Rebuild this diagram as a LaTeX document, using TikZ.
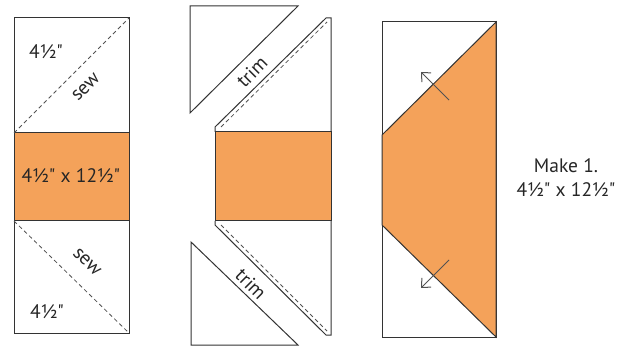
\documentclass[tikz,border=0pt]{standalone}
\usepackage{fontspec}
\setmainfont{PT Sans}
\usetikzlibrary{arrows.meta}
\definecolor{patch}{HTML}{F4A25A}
\definecolor{edge}{HTML}{333333}
\definecolor{ink}{HTML}{262626}
\newcommand{\inch}{\textquotedbl}
\tikzset{
  piece/.style={draw=edge, line width=1pt, line join=miter},
  orangepiece/.style={piece, fill=patch},
  seam/.style={draw=edge!85, line width=0.8pt, dash pattern=on 4pt off 3pt},
  lbl/.style={text=ink, font=\fontsize{19.5}{22}\selectfont, inner sep=0pt},
  pressarrow/.style={draw=edge!85, line width=1pt, -{Straight Barb[length=7pt,width=13pt]}}
}
\begin{document}
\begin{tikzpicture}[x=1pt,y=-1pt]
\useasboundingbox (0,0) rectangle (626,347);
% ---------- left panel ----------
\draw[piece] (14,18) rectangle (129,333);
\draw[orangepiece] (14,133) rectangle (129,221);
\draw[seam] (14,133) -- (129,18);
\draw[seam] (14,221) -- (129,333);
\node[lbl] (t1) at (46,52) {4½\inch};
\node[lbl, rotate=45] (s1) at (86,87) {sew};
\node[lbl] (m1) at (71,176) {4½\inch{} x 12½\inch};
\node[lbl, rotate=-45] (s2) at (87,262) {sew};
\node[lbl] (t2) at (47,312) {4½\inch};
% ---------- middle panel ----------
\draw[piece] (190,6) -- (298,6) -- (190,113) -- cycle;
\draw[piece] (191,242) -- (191,345) -- (298,345) -- cycle;
\draw[piece] (215,132) -- (215,127) -- (326,18) -- (331,18) -- (331,335) -- (326,335) -- (215,225) -- (215,221);
\draw[orangepiece] (215,132) rectangle (331,221);
\draw[seam] (221,127) -- (327,22);
\draw[seam] (221,225) -- (327,331);
\node[lbl, rotate=45] (tr1) at (252,72) {trim};
\node[lbl, rotate=-45] (tr2) at (251,284) {trim};
% ---------- right panel ----------
\draw[piece] (382,22) rectangle (496,337);
\draw[orangepiece] (496,22) -- (382,135) -- (382,225) -- (496,337) -- cycle;
\coordinate (a1s) at (449,100);
\coordinate (a1e) at (421,72);
\coordinate (a2s) at (449,260);
\coordinate (a2e) at (421,288);
\draw[pressarrow] (a1s) -- (a1e);
\draw[pressarrow] (a2s) -- (a2e);
% ---------- caption ----------
\node[lbl] (c1) at (566,166) {Make 1.};
\node[lbl] (c2) at (566,190) {4½\inch{} x 12½\inch};
\end{tikzpicture}
\end{document}
